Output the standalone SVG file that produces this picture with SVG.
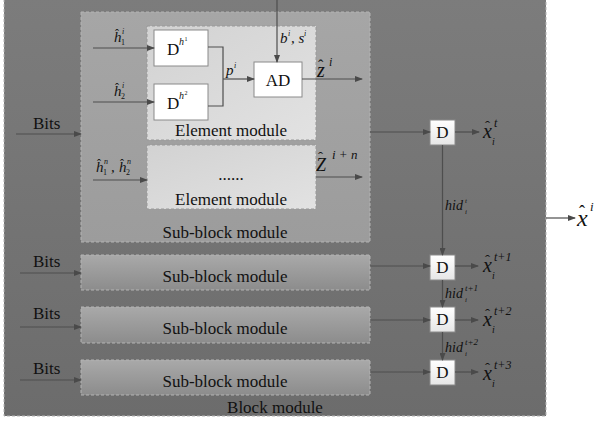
<svg xmlns="http://www.w3.org/2000/svg" width="595" height="421" viewBox="0 0 595 421">
<defs>
<linearGradient id="gBlock" x1="0" y1="0" x2="0" y2="1"><stop offset="0" stop-color="#7c7c7c"/><stop offset="1" stop-color="#6c6c6c"/></linearGradient>
<linearGradient id="gSub1" x1="0" y1="0" x2="0" y2="1"><stop offset="0" stop-color="#a6a6a6"/><stop offset="1" stop-color="#9c9c9c"/></linearGradient>
<linearGradient id="gSub" x1="0" y1="0" x2="0" y2="1"><stop offset="0" stop-color="#a9a9a9"/><stop offset="1" stop-color="#8c8c8c"/></linearGradient>
<linearGradient id="gEl" x1="0" y1="0" x2="1" y2="1"><stop offset="0" stop-color="#d2d2d2"/><stop offset="1" stop-color="#e2e2e2"/></linearGradient>
<linearGradient id="gD" x1="0" y1="0" x2="0" y2="1"><stop offset="0" stop-color="#ffffff"/><stop offset="1" stop-color="#e6e6e6"/></linearGradient>
<marker id="ah" markerWidth="8" markerHeight="6" refX="7" refY="3" orient="auto" markerUnits="userSpaceOnUse"><path d="M0,0 L8,3 L0,6 z" fill="#4a4a4a"/></marker>
</defs>
<style>
.t{font-family:"Liberation Serif","Times New Roman",serif;fill:#111}
.m{font-family:"Liberation Serif","Times New Roman",serif;font-style:italic;fill:#111}
.dash{stroke:#b4b4b4;stroke-width:1;stroke-dasharray:3,2}
.box{fill:url(#gD);stroke:#8a8a8a;stroke-width:1}
.c{fill:none;stroke:#4e4e4e;stroke-width:1.2}
.a{fill:none;stroke:#4e4e4e;stroke-width:1.2;marker-end:url(#ah)}
</style>
<rect width="595" height="421" fill="#ffffff"/>
<g id="block">
<rect x="4" y="-1" width="542" height="417" fill="url(#gBlock)" class="dash"/>
<text class="t" font-size="17" x="275" y="413" text-anchor="middle">Block module</text>
</g>
<g id="subblock1">
<rect x="81" y="12" width="289" height="230" fill="url(#gSub1)" class="dash"/>
<text class="t" font-size="17" x="225" y="238" text-anchor="middle">Sub-block module</text>
</g>
<g id="element1">
<rect x="147" y="26" width="169" height="114" fill="url(#gEl)" class="dash" style="stroke:#999"/>
<text class="t" font-size="17" x="231" y="136" text-anchor="middle">Element module</text>
</g>
<g id="element2">
<rect x="147" y="145" width="169" height="64" fill="url(#gEl)" class="dash" style="stroke:#999"/>
<text class="t" font-size="17" x="231" y="180" text-anchor="middle">......</text>
<text class="t" font-size="17" x="231" y="205" text-anchor="middle">Element module</text>
</g>
<g id="dh1">
<rect x="154" y="30" width="54" height="36" class="box" style="fill:#fff"/>
<text class="t" font-size="17" x="167" y="55">D</text>
<text class="m" x="179" y="45" font-size="10">h</text>
<text class="t" x="184.5" y="41" font-size="6">1</text>
</g>
<g id="dh2">
<rect x="154" y="84" width="54" height="36" class="box" style="fill:#fff"/>
<text class="t" font-size="17" x="167" y="109">D</text>
<text class="m" x="179" y="99" font-size="10">h</text>
<text class="t" x="184.5" y="95" font-size="6">2</text>
</g>
<g id="ad">
<rect x="254" y="62" width="48" height="35" class="box" style="fill:#fff"/>
<text class="t" font-size="17" x="278" y="86" text-anchor="middle">AD</text>
</g>
<g id="subblock2">
<rect x="81" y="255" width="289" height="35" fill="url(#gSub)" class="dash"/>
<text class="t" font-size="17" x="225" y="282" text-anchor="middle">Sub-block module</text>
</g>
<g id="subblock3">
<rect x="81" y="307" width="289" height="36" fill="url(#gSub)" class="dash"/>
<text class="t" font-size="17" x="225" y="334" text-anchor="middle">Sub-block module</text>
</g>
<g id="subblock4">
<rect x="81" y="360" width="289" height="35" fill="url(#gSub)" class="dash"/>
<text class="t" font-size="17" x="225" y="387" text-anchor="middle">Sub-block module</text>
</g>
<g id="d1"><rect x="430" y="120" width="25" height="25" class="box"/><text class="t" font-size="17" x="442.5" y="138" text-anchor="middle">D</text></g>
<g id="d2"><rect x="430" y="255" width="25" height="25" class="box"/><text class="t" font-size="17" x="442.5" y="273" text-anchor="middle">D</text></g>
<g id="d3"><rect x="430" y="307" width="25" height="25" class="box"/><text class="t" font-size="17" x="442.5" y="325" text-anchor="middle">D</text></g>
<g id="d4"><rect x="430" y="360" width="25" height="25" class="box"/><text class="t" font-size="17" x="442.5" y="378" text-anchor="middle">D</text></g>
<g id="connectors">
<line class="a" x1="93" y1="48" x2="154" y2="48"/>
<line class="a" x1="93" y1="102" x2="154" y2="102"/>
<line class="a" x1="16" y1="134" x2="81" y2="134"/>
<polyline class="c" points="208,47 223,47 223,106 208,106"/>
<line class="a" x1="223" y1="79" x2="254" y2="79"/>
<line class="a" x1="277" y1="0" x2="277" y2="62"/>
<line class="a" x1="302" y1="79" x2="362" y2="79"/>
<line class="a" x1="93" y1="180" x2="147" y2="180"/>
<line class="a" x1="316" y1="177" x2="362" y2="177"/>
<line class="a" x1="370" y1="132" x2="430" y2="132"/>
<line class="a" x1="455" y1="132" x2="479" y2="132"/>
<line class="a" x1="442.5" y1="145" x2="442.5" y2="255"/>
<line class="a" x1="546" y1="218" x2="575" y2="218"/>
<line class="a" x1="20" y1="273" x2="81" y2="273"/>
<line class="a" x1="20" y1="327" x2="81" y2="327"/>
<line class="a" x1="20" y1="380" x2="81" y2="380"/>
<line class="a" x1="370" y1="266" x2="430" y2="266"/>
<line class="a" x1="370" y1="320" x2="430" y2="320"/>
<line class="a" x1="370" y1="372" x2="430" y2="372"/>
<line class="a" x1="455" y1="266" x2="478" y2="266"/>
<line class="a" x1="455" y1="320" x2="478" y2="320"/>
<line class="a" x1="455" y1="372" x2="478" y2="372"/>
<line class="a" x1="442.5" y1="280" x2="442.5" y2="307"/>
<line class="a" x1="442.5" y1="332" x2="442.5" y2="360"/>
</g>
<g id="labels">
<text class="t" font-size="17" x="33" y="129">Bits</text>
<text class="t" font-size="17" x="33" y="267">Bits</text>
<text class="t" font-size="17" x="33" y="319">Bits</text>
<text class="t" font-size="17" x="33" y="374">Bits</text>
<text class="m" x="114" y="42" font-size="15">h</text><text class="t" x="115" y="38" font-size="12">ˆ</text><text class="t" x="121" y="45" font-size="8">1</text><text class="m" x="122" y="34" font-size="8">i</text>
<text class="m" x="114" y="96" font-size="15">h</text><text class="t" x="115" y="92" font-size="12">ˆ</text><text class="t" x="121" y="99" font-size="8">2</text><text class="m" x="122" y="88" font-size="8">i</text>
<text class="m" x="226" y="75" font-size="15">p</text><text class="m" x="234" y="68" font-size="8">i</text>
<text class="m" x="280" y="43" font-size="15">b</text><text class="m" x="288" y="36" font-size="8">i</text><text class="m" x="291" y="43" font-size="15">, s</text><text class="m" x="304" y="36" font-size="8">i</text>
<text class="m" x="317" y="77" font-size="20">z</text><text class="t" x="318" y="71" font-size="16">ˆ</text><text class="m" x="329" y="66" font-size="12">i</text>
<text class="m" x="96" y="172" font-size="15">h</text><text class="t" x="97" y="168" font-size="12">ˆ</text><text class="t" x="103" y="175" font-size="8">1</text><text class="m" x="104" y="164" font-size="8">n</text>
<text class="m" x="111" y="172" font-size="15">,</text>
<text class="m" x="119" y="172" font-size="15">h</text><text class="t" x="120" y="168" font-size="12">ˆ</text><text class="t" x="126" y="175" font-size="8">2</text><text class="m" x="127" y="164" font-size="8">n</text>
<text class="m" x="316" y="171" font-size="18">Z</text><text class="t" x="318" y="162" font-size="15">ˆ</text><text class="m" x="332" y="159" font-size="13">i + n</text>
<text class="m" x="483" y="138" font-size="20">x</text><text class="t" x="485" y="131" font-size="15">ˆ</text><text class="m" x="494" y="127" font-size="12">t</text><text class="m" x="492" y="145" font-size="10">i</text>
<text class="m" x="445" y="210" font-size="14">hid</text><text class="m" x="465" y="203" font-size="7">t</text><text class="m" x="465" y="214" font-size="7">i</text>
<text class="m" x="577" y="226" font-size="24">x</text><text class="t" x="579" y="218" font-size="18">ˆ</text><text class="m" x="590" y="211" font-size="13">i</text>
<text class="m" x="483" y="272" font-size="20">x</text><text class="t" x="485" y="265" font-size="15">ˆ</text><text class="m" x="494" y="261" font-size="12">t+1</text><text class="m" x="492" y="279" font-size="10">i</text>
<text class="m" x="445" y="298" font-size="14">hid</text><text class="m" x="465" y="291" font-size="9">t+1</text><text class="m" x="465" y="302" font-size="7">i</text>
<text class="m" x="483" y="326" font-size="20">x</text><text class="t" x="485" y="319" font-size="15">ˆ</text><text class="m" x="494" y="315" font-size="12">t+2</text><text class="m" x="492" y="333" font-size="10">i</text>
<text class="m" x="445" y="352" font-size="14">hid</text><text class="m" x="465" y="345" font-size="9">t+2</text><text class="m" x="465" y="356" font-size="7">i</text>
<text class="m" x="483" y="380" font-size="20">x</text><text class="t" x="485" y="373" font-size="15">ˆ</text><text class="m" x="494" y="369" font-size="12">t+3</text><text class="m" x="492" y="387" font-size="10">i</text>
</g>
</svg>
